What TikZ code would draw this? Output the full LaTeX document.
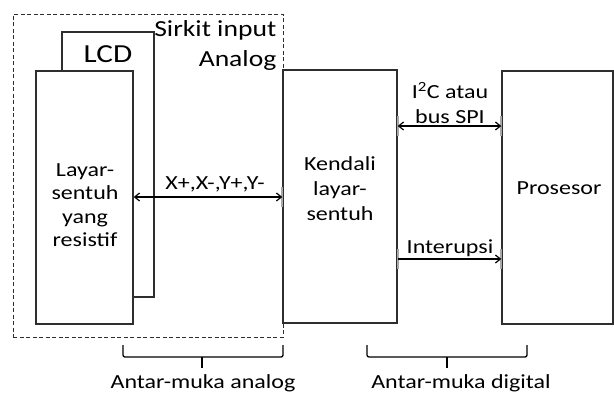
\documentclass[tikz,border=0pt]{standalone}
\usepackage{fontspec}
\setmainfont{Carlito}[FakeStretch=1.2]
\usetikzlibrary{arrows.meta}
\definecolor{garis}{HTML}{2E2E2E}
\definecolor{abu}{HTML}{A8A8A8}
\begin{document}
\begin{tikzpicture}[x=1pt,y=-1pt,line width=1.3pt,
	blok/.style={draw=garis,fill=white,rectangle,inner sep=0pt},
	teks/.style={font=\fontsize{20}{25}\selectfont,align=center,inner sep=0pt},
	panah/.style={line width=1.2pt,draw=black,-{Straight Barb[length=5pt,width=8pt]}},
	panahdua/.style={panah,{Straight Barb[length=5pt,width=8pt]}-{Straight Barb[length=5pt,width=8pt]}},
	porta/.style={abu,line width=2pt},
	kurung/.style={line width=1.3pt,rounded corners=2pt}]
	\useasboundingbox (0,0) rectangle (614,394);
	% Kotak sirkit input analog
	\node[draw=garis,line width=1pt,dash pattern=on 4pt off 2.5pt,minimum width=270pt,minimum height=323pt] (sirkit) at (148,175.5) {};
	\node[teks,align=right,anchor=north east,font=\fontsize{23}{30}\selectfont] (sirkitt) at (277,20) {Sirkit input\\Analog};
	% LCD dan layar-sentuh
	\node[blok,minimum width=92pt,minimum height=265pt] (lcd) at (108,164.5) {};
	\node[teks,font=\fontsize{26}{30}\selectfont] (lcdt) at (108,54) {LCD};
	\node[blok,minimum width=97pt,minimum height=253pt] (layar) at (84.5,197.5) {};
	\node[teks,font=\fontsize{20}{23.5}\selectfont] (layart) at (85,205) {Layar-\\sentuh\\yang\\resistif};
	% Kendali layar-sentuh
	\node[blok,minimum width=114pt,minimum height=253pt] (kendali) at (340,196.5) {};
	\node[teks] (kendalit) at (340,189) {Kendali\\layar-\\sentuh};
	% Prosesor
	\node[blok,minimum width=111pt,minimum height=253pt] (prosesor) at (557.5,197.5) {};
	\node[teks] (prosesort) at (559,188) {Prosesor};
	% Titik ujung panah
	\coordinate (xa) at (layar.east |- 0,197);
	\coordinate (xb) at (kendali.west |- 0,197);
	\coordinate (ia) at (kendali.east |- 0,126);
	\coordinate (ib) at (prosesor.west |- 0,126);
	\coordinate (pa) at (kendali.east |- 0,259);
	\coordinate (pb) at (prosesor.west |- 0,259);
	\foreach \p in {xb,ia,ib,pa,pb}
	\draw[porta] ([yshift=10]\p) -- ([yshift=-10]\p);
	% Panah
	\draw[panahdua] (xa) -- (xb);
	\node[teks] (xlabel) at (215,184) {X+,X-,Y+,Y-};
	\draw[panahdua] (ia) -- (ib);
	\node[teks] (ilabel) at (450,103) {I\textsuperscript{2}C atau\\bus SPI};
	\draw[panah] (pa) -- (pb);
	\node[teks] (plabel) at (450,248) {Interupsi};
	% Kurung antar-muka
	\draw[kurung] (123,345) -- (123,357) -- (283,357) -- (283,345);
	\draw[kurung] (202,357) -- (202,368);
	\node[teks] (analog) at (203,383) {Antar-muka analog};
	\draw[kurung] (367,345) -- (367,357) -- (527,357) -- (527,345);
	\draw[kurung] (447,357) -- (447,368);
	\node[teks] (digital) at (461,383) {Antar-muka digital};
\end{tikzpicture}
\end{document}
